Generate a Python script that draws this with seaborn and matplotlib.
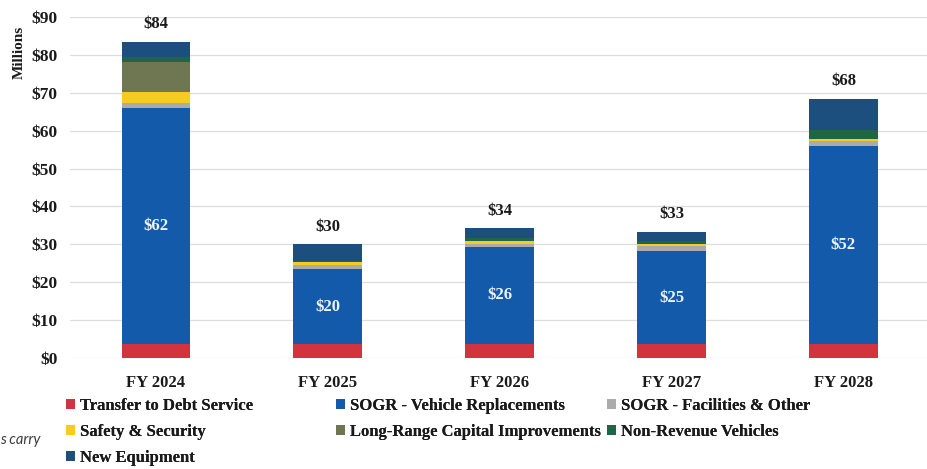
import matplotlib
matplotlib.use("Agg")
import matplotlib.pyplot as plt
import numpy as np
import pandas as pd
import seaborn as sns

# ── Data (millions of dollars) ───────────────────────────────────────────────
years = ["FY 2024", "FY 2025", "FY 2026", "FY 2027", "FY 2028"]
debt_service = [3.7, 3.6, 3.6, 3.6, 3.6]
vehicle_repl = [62.4, 19.8, 25.8, 24.6, 52.3]
facilities = [1.3, 1.1, 0.8, 1.3, 1.3]
safety = [2.9, 0.9, 0.8, 0.6, 0.7]
long_range = [7.9, 0.0, 0.0, 0.0, 0.0]
non_revenue = [1.3, 0.3, 0.6, 0.7, 2.4]
new_equipment = [4.0, 4.3, 2.6, 2.4, 8.1]

series_names = ["Transfer to Debt Service", "SOGR - Vehicle Replacements",
                "SOGR - Facilities & Other", "Safety & Security",
                "Long-Range Capital Improvements", "Non-Revenue Vehicles",
                "New Equipment"]
series_values = [debt_service, vehicle_repl, facilities, safety,
                 long_range, non_revenue, new_equipment]
series_colors = ["#D2343F", "#135BAA", "#ABABAB", "#F6CB22",
                 "#6F7652", "#1F6546", "#1C4E7E"]

blue_labels = ["$62", "$20", "$26", "$25", "$52"]
total_labels = ["$84", "$30", "$34", "$33", "$68"]

df = pd.DataFrame(dict(zip(series_names, series_values)), index=years)

# ── Plot ──────────────────────────────────────────────────────────────────────
sns.set_style("white")
serif = ["Liberation Serif", "DejaVu Serif"]
plt.rcParams["font.family"] = serif
FS = 12

fig = plt.figure(figsize=(9.27, 4.69), dpi=100)
ax = fig.add_axes([0.0755, 0.2367, 0.927, 0.7271])

bottom = np.zeros(len(years))
containers = []
for name, color in zip(series_names, series_colors):
    vals = df[name].to_numpy()
    sns.barplot(x=years, y=vals, bottom=bottom, color=color, width=0.4,
                errorbar=None, ax=ax, saturation=1,
                linewidth=0, zorder=3)
    containers.append(ax.containers[-1])
    bottom = bottom + vals

ax.set_ylim(0, 90)
ax.set_xlim(-0.5, 4.5)
ax.set_yticks(np.arange(0, 91, 10))
ax.set_yticklabels([f"${v}" for v in range(0, 91, 10)])
ax.yaxis.grid(True, color="#DDDDDD", linewidth=0.9, zorder=0)
ax.xaxis.grid(False)
for s in ax.spines.values():
    s.set_visible(False)
ax.tick_params(axis="both", length=0, labelsize=FS, colors="#1a1a1a")
ax.tick_params(axis="y", pad=9, labelsize=12.5)
ax.tick_params(axis="x", pad=12)
for lbl in ax.get_xticklabels() + ax.get_yticklabels():
    lbl.set_fontweight("bold")
ax.set_xlabel("")
ax.set_ylabel("Millions", fontsize=11, fontweight="bold", color="#1a1a1a")
ax.yaxis.set_label_coords(-0.052, 0.895)

ax.bar_label(containers[1], labels=blue_labels, label_type="center",
             color="#EEF4FB", fontsize=FS, fontweight="bold")
ax.bar_label(containers[-1], labels=total_labels, padding=7,
             color="#1a1a1a", fontsize=FS, fontweight="bold")

# legend laid out in three fixed columns like the original
handles = {n: c.patches[0] for n, c in zip(series_names, containers)}
cols = [
    (["Transfer to Debt Service", "Safety & Security", "New Equipment"], 0.0715),
    (["SOGR - Vehicle Replacements", "Long-Range Capital Improvements"], 0.3625),
    (["SOGR - Facilities & Other", "Non-Revenue Vehicles"], 0.655),
]
for names, x0 in cols:
    leg = fig.legend([handles[n] for n in names], names, loc="upper left",
                     bbox_to_anchor=(x0, 0.152), frameon=False,
                     handlelength=0.55, handleheight=0.55, handletextpad=0.3,
                     labelspacing=0.6, borderaxespad=0, borderpad=0,
                     prop={"family": serif, "weight": "bold", "size": FS})
    for t in leg.get_texts():
        t.set_color("#1a1a1a")
    fig.add_artist(leg)

fig.text(0.0, 0.062, "s carry", fontsize=10.5, style="italic",
         color="#3a3a3a", family="Lato", va="center")

fig.savefig("out.png", dpi=100)
plt.close(fig)
